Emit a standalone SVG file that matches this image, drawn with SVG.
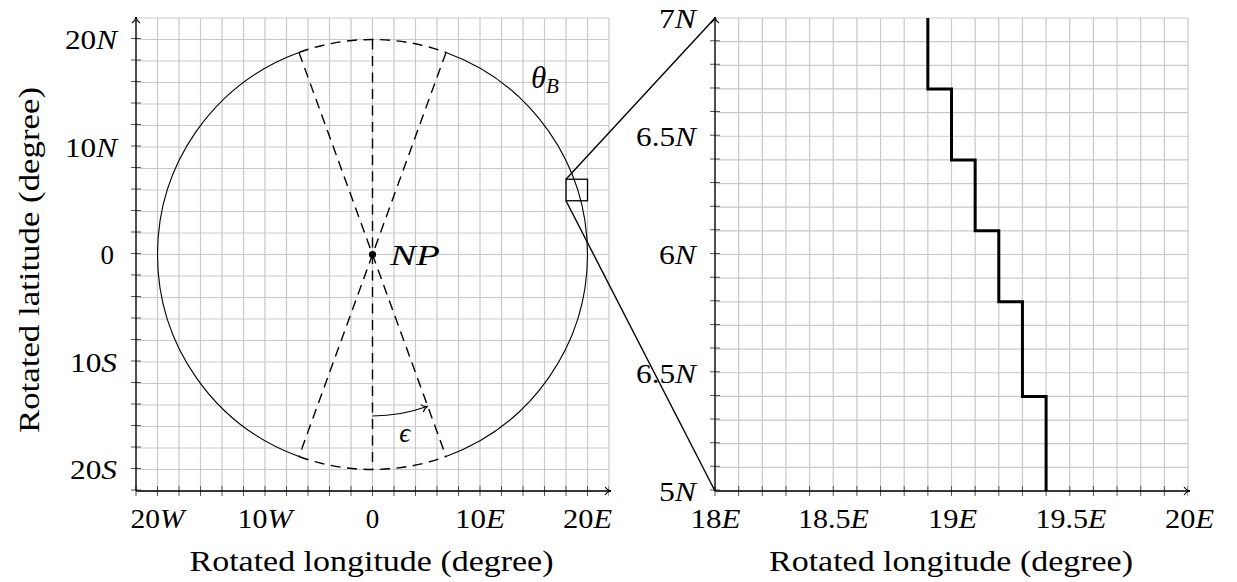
<svg xmlns="http://www.w3.org/2000/svg" width="1237" height="582" viewBox="0 0 1237 582" font-family="'Liberation Serif', 'Times New Roman', serif">
<style>
text{fill:#000}
.tl{font-size:27px}
.tt{font-size:29px}
.it{font-style:italic}
.grid{stroke:#c9c9c9;stroke-width:1.2;fill:none}
.tick{stroke:#555;stroke-width:1;fill:none}
.axis{stroke:#000;stroke-width:1.3;fill:none}
.thin{stroke:#000;stroke-width:1.1;fill:none}
.dash{stroke:#000;stroke-width:1.4;fill:none;stroke-dasharray:10 6.5}
</style>
<defs>
<marker id="ah" viewBox="-8 -6 10 12" refX="0" refY="0" markerWidth="10" markerHeight="12" markerUnits="userSpaceOnUse" orient="auto" overflow="visible">
<path d="M-6,-4 C-4.5,-1.5 -2,-0.4 0,0 C-2,0.4 -4.5,1.5 -6,4" fill="none" stroke="#000" stroke-width="1.1"/>
</marker>
</defs>
<rect width="1237" height="582" fill="#fff"/>

<g id="grid-left" class="grid">
<path d="M136 18V491M157.5 18V491M179 18V491M200.5 18V491M222 18V491M243.5 18V491M265 18V491M286.5 18V491M308 18V491M329.5 18V491M351 18V491M372.5 18V491M394 18V491M415.5 18V491M437 18V491M458.5 18V491M480 18V491M501.5 18V491M523 18V491M544.5 18V491M566 18V491M587.5 18V491M609 18V491"/>
<path d="M136 18H609M136 39.5H609M136 61H609M136 82.5H609M136 104H609M136 125.5H609M136 147H609M136 168.5H609M136 190H609M136 211.5H609M136 233H609M136 254.5H609M136 276H609M136 297.5H609M136 319H609M136 340.5H609M136 362H609M136 383.5H609M136 405H609M136 426.5H609M136 448H609M136 469.5H609M136 491H609"/>
</g>
<g id="grid-right" class="grid">
<path d="M715 18V491M738.65 18V491M762.3 18V491M785.95 18V491M809.6 18V491M833.25 18V491M856.9 18V491M880.55 18V491M904.2 18V491M927.85 18V491M951.5 18V491M975.15 18V491M998.8 18V491M1022.45 18V491M1046.1 18V491M1069.75 18V491M1093.4 18V491M1117.05 18V491M1140.7 18V491M1164.35 18V491M1188 18V491"/>
<path d="M715 18H1188M715 41.65H1188M715 65.3H1188M715 88.95H1188M715 112.6H1188M715 136.25H1188M715 159.9H1188M715 183.55H1188M715 207.2H1188M715 230.85H1188M715 254.5H1188M715 278.15H1188M715 301.8H1188M715 325.45H1188M715 349.1H1188M715 372.75H1188M715 396.4H1188M715 420.05H1188M715 443.7H1188M715 467.35H1188M715 491H1188"/>
</g>

<g id="ticks" class="tick">
<line x1="135.5" y1="491" x2="609" y2="491" stroke-width="10" stroke-dasharray="1 20.5"/>
<line x1="136" y1="490.5" x2="136" y2="18" stroke-width="10" stroke-dasharray="1 20.5"/>
<line x1="714.5" y1="491" x2="1188" y2="491" stroke-width="10" stroke-dasharray="1 22.65"/>
<line x1="715" y1="490.5" x2="715" y2="18" stroke-width="10" stroke-dasharray="1 22.65"/>
</g>

<g id="axes" class="axis">
<line x1="136" y1="491" x2="611" y2="491" marker-end="url(#ah)"/>
<line x1="136" y1="491" x2="136" y2="17" marker-end="url(#ah)"/>
<line x1="715" y1="491" x2="1190" y2="491" marker-end="url(#ah)"/>
<line x1="715" y1="491" x2="715" y2="17" marker-end="url(#ah)"/>
</g>

<g id="circle-thetaB">
<path class="thin" d="M298.97 52.47A215 215 0 0 0 298.97 456.53"/>
<path class="thin" d="M446.03 52.47A215 215 0 0 1 446.03 456.53"/>
<path class="dash" d="M298.97 52.47A215 215 0 0 1 446.03 52.47"/>
<path class="dash" d="M298.97 456.53A215 215 0 0 0 446.03 456.53"/>
</g>

<g id="sector-lines">
<path class="dash" d="M372.5 39.5V469.5"/>
<path class="dash" d="M298.97 52.47L446.03 456.53"/>
<path class="dash" d="M446.03 52.47L298.97 456.53"/>
</g>

<g id="NP">
<circle cx="372.5" cy="254.5" r="3.6" fill="#000"/>
<text x="390" y="265" font-size="30" class="it" textLength="50" lengthAdjust="spacingAndGlyphs">NP</text>
</g>

<g id="epsilon">
<path class="thin" d="M372.5 416A161.5 161.5 0 0 0 427.7 406.3" marker-end="url(#ah)"/>
<text x="404.7" y="441.5" font-size="27" text-anchor="middle" class="it">ϵ</text>
</g>

<g id="thetaB-label">
<text x="531" y="88" font-size="31" class="it">θ</text>
<text x="546" y="93" font-size="21" class="it">B</text>
</g>

<g id="zoom-box">
<rect x="566" y="179.25" width="21.5" height="21.5" fill="none" stroke="#000" stroke-width="1.3"/>
</g>

<g id="connectors">
<line x1="566" y1="179.25" x2="715" y2="18" stroke="#000" stroke-width="1.4"/>
<line x1="566" y1="200.75" x2="715" y2="491" stroke="#000" stroke-width="1.4"/>
</g>

<g id="boundary-step">
<path d="M927.85 18V88.95H951.5V159.9H975.15V230.85H998.8V301.8H1022.45V396.4H1046.1V491" fill="none" stroke="#000" stroke-width="3"/>
</g>

<g id="left-x-labels" class="tl" text-anchor="middle">
<text x="157.5" y="528" textLength="54" lengthAdjust="spacingAndGlyphs">20<tspan class="it">W</tspan></text>
<text x="265" y="528" textLength="55" lengthAdjust="spacingAndGlyphs">10<tspan class="it">W</tspan></text>
<text x="372.5" y="528">0</text>
<text x="480" y="528" textLength="50" lengthAdjust="spacingAndGlyphs">10<tspan class="it">E</tspan></text>
<text x="587.5" y="528" textLength="49" lengthAdjust="spacingAndGlyphs">20<tspan class="it">E</tspan></text>
</g>

<g id="left-y-labels" class="tl" text-anchor="end">
<text x="117" y="49" textLength="52" lengthAdjust="spacingAndGlyphs">20<tspan class="it">N</tspan></text>
<text x="117" y="156.5" textLength="52" lengthAdjust="spacingAndGlyphs">10<tspan class="it">N</tspan></text>
<text x="114" y="264">0</text>
<text x="117" y="371.5" textLength="47" lengthAdjust="spacingAndGlyphs">10<tspan class="it">S</tspan></text>
<text x="117" y="479" textLength="47" lengthAdjust="spacingAndGlyphs">20<tspan class="it">S</tspan></text>
</g>

<g id="right-x-labels" class="tl" text-anchor="middle">
<text x="715.5" y="528" textLength="50" lengthAdjust="spacingAndGlyphs">18<tspan class="it">E</tspan></text>
<text x="833.5" y="528" textLength="71" lengthAdjust="spacingAndGlyphs">18.5<tspan class="it">E</tspan></text>
<text x="952.5" y="528" textLength="49" lengthAdjust="spacingAndGlyphs">19<tspan class="it">E</tspan></text>
<text x="1071" y="528" textLength="71" lengthAdjust="spacingAndGlyphs">19.5<tspan class="it">E</tspan></text>
<text x="1189.5" y="528" textLength="49" lengthAdjust="spacingAndGlyphs">20<tspan class="it">E</tspan></text>
</g>

<g id="right-y-labels" class="tl" text-anchor="end">
<text x="696" y="27.5" textLength="37" lengthAdjust="spacingAndGlyphs">7<tspan class="it">N</tspan></text>
<text x="696" y="146" textLength="60" lengthAdjust="spacingAndGlyphs">6.5<tspan class="it">N</tspan></text>
<text x="696" y="264" textLength="37" lengthAdjust="spacingAndGlyphs">6<tspan class="it">N</tspan></text>
<text x="696" y="382.5" textLength="60" lengthAdjust="spacingAndGlyphs">6.5<tspan class="it">N</tspan></text>
<text x="696" y="500.5" textLength="37" lengthAdjust="spacingAndGlyphs">5<tspan class="it">N</tspan></text>
</g>

<g id="axis-titles" class="tt" text-anchor="middle">
<text x="371.5" y="571" textLength="364" lengthAdjust="spacingAndGlyphs">Rotated longitude (degree)</text>
<text x="951" y="571" textLength="364" lengthAdjust="spacingAndGlyphs">Rotated longitude (degree)</text>
<text transform="translate(39 260) rotate(-90)" textLength="346" lengthAdjust="spacingAndGlyphs">Rotated latitude (degree)</text>
</g>
</svg>
